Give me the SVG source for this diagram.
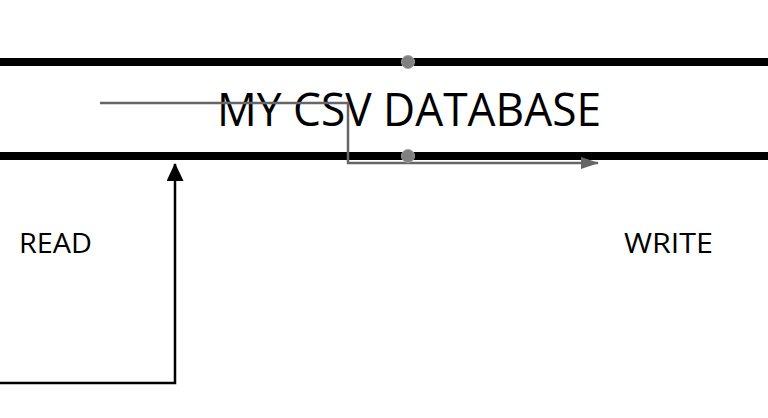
<svg xmlns="http://www.w3.org/2000/svg" width="768" height="418" viewBox="0 0 768 418">
<style>
.t{font-family:"Open Sans","Noto Sans","Liberation Sans",sans-serif;fill:#000}
.bar{stroke:#000;stroke-width:8}
.dot{fill:#808080;stroke:#a0a0a0;stroke-width:1}
</style>
<defs>
<marker id="ab" markerWidth="18" markerHeight="20" refX="17" refY="8.5" orient="auto" markerUnits="userSpaceOnUse"><path d="M0,0 L18,8.5 L0,17 Z" fill="#000"/></marker>
<marker id="ag" markerWidth="18" markerHeight="14" refX="17" refY="6" orient="auto" markerUnits="userSpaceOnUse"><path d="M0,0 L18,6 L0,12 Z" fill="#666"/></marker>
</defs>
<rect width="768" height="418" fill="#fff"/>
<g id="database">
<line class="bar" x1="0" y1="62" x2="768" y2="62"/>
<line class="bar" x1="0" y1="156" x2="768" y2="156"/>
<text class="t" x="409" y="126" font-size="46" text-anchor="middle" textLength="384" lengthAdjust="spacingAndGlyphs">MY CSV DATABASE</text>
</g>
<g id="read"><text class="t" x="19" y="253" font-size="27" textLength="73" lengthAdjust="spacingAndGlyphs">READ</text></g>
<g id="write"><text class="t" x="624" y="253" font-size="27" textLength="89" lengthAdjust="spacingAndGlyphs">WRITE</text></g>
<g id="connectors">
<polyline points="100,103 348,103 348,163 598,163" fill="none" stroke="#666" stroke-width="2.5" marker-end="url(#ag)"/>
<polyline points="0,383 175,383 175,164" fill="none" stroke="#000" stroke-width="2.5" marker-end="url(#ab)"/>
</g>
<g id="handles">
<circle class="dot" cx="408" cy="62" r="6.5"/>
<circle class="dot" cx="408" cy="156" r="6.5"/>
</g>
</svg>
